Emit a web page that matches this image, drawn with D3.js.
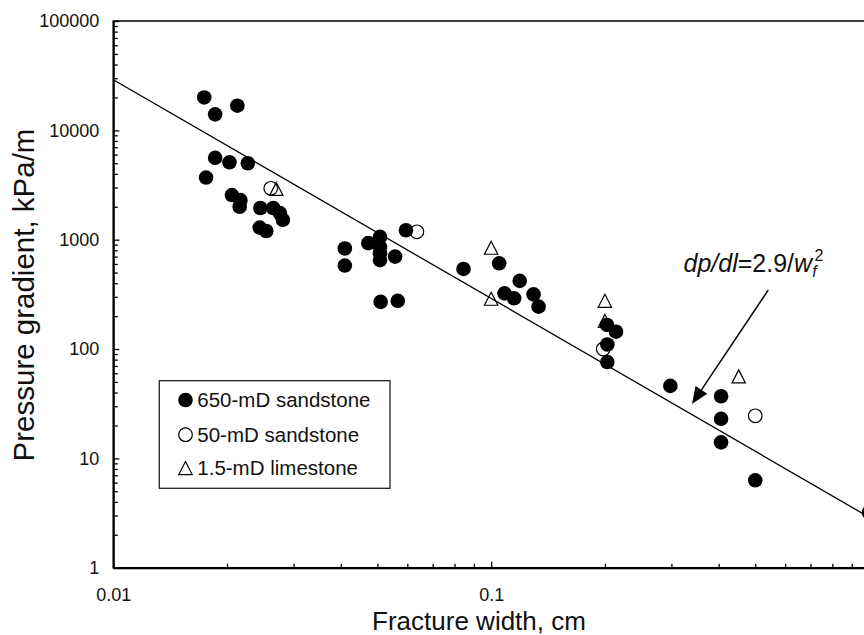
<!DOCTYPE html>
<html>
<head>
<meta charset="utf-8">
<script src="https://cdn.jsdelivr.net/npm/d3@7/dist/d3.min.js"></script>
<style>
  body { margin: 0; background: #fff; }
  svg { display: block; font-family: Arial, "Liberation Sans", sans-serif; }
</style>
</head>
<body>
<svg id="chart" width="864" height="635"></svg>
<script>
// fracture width (cm), pressure gradient (kPa/m)
const sandstone650 = [
  [0.0174, 20000], [0.0186, 14000], [0.0213, 16800], [0.0186, 5600],
  [0.0203, 5100], [0.0227, 5000], [0.0176, 3700], [0.0206, 2560],
  [0.0217, 2300], [0.0216, 2000], [0.0245, 1950], [0.0265, 1950],
  [0.0276, 1750], [0.0281, 1520], [0.0244, 1290], [0.0254, 1200],
  [0.041, 830], [0.041, 580], [0.0473, 930], [0.0508, 1060],
  [0.0508, 860], [0.0508, 750], [0.0508, 650], [0.0557, 700],
  [0.051, 270], [0.0566, 276], [0.0595, 1220], [0.0845, 540],
  [0.105, 608], [0.119, 420], [0.1085, 323], [0.115, 291],
  [0.1295, 316], [0.1335, 244], [0.2026, 166], [0.214, 144],
  [0.203, 110], [0.203, 76], [0.298, 46], [0.406, 37],
  [0.406, 23], [0.406, 14], [0.5, 6.3], [1.0, 3.2]
];
const sandstone50 = [[0.0261, 2950], [0.0636, 1180], [0.198, 100], [0.5, 24.5]];
const limestone = [[0.027, 2900], [0.1, 840], [0.1, 287], [0.2, 275], [0.2, 180], [0.452, 56]];

const fitCoef = 2.9;          // dp/dl = 2.9 / w^2
const fitRange = [0.01, 1];
const xMajor = [0.01, 0.1, 1];
const xLabels = ["0.01", "0.1", ""];   // the "1" sits past the window edge
const yMajor = [1, 10, 100, 1000, 10000, 100000];
const legendLabels = ["650-mD sandstone", "50-mD sandstone", "1.5-mD limestone"];

// annotation anchors, in data units
const noteAt = [0.323, 506];
const arrowFrom = [0.541, 346];
const arrowTo = [0.340, 31.4];

const svg = d3.select("#chart");

const x = d3.scaleLog().domain([0.01, 1]).range([113.3, 869]);
const y = d3.scaleLog().domain([1, 100000]).range([567.7, 21]);

// plot frame (right side falls outside the window, like the original)
svg.append("rect")
  .attr("x", x(0.01)).attr("y", y(100000))
  .attr("width", x(1) - x(0.01)).attr("height", y(1) - y(100000))
  .attr("fill", "none").attr("stroke", "#000").attr("stroke-width", 1.5);

// minor ticks
const xMinor = x.ticks().filter(v => !xMajor.some(m => Math.abs(m - v) < 1e-9));
const yMinor = y.ticks().filter(v => !yMajor.some(m => Math.abs(m - v) < 1e-9));

svg.append("g")
  .attr("transform", `translate(0,${y(1)})`)
  .call(d3.axisBottom(x).tickValues(xMinor).tickSize(-4).tickFormat(""))
  .call(g => g.select(".domain").remove())
  .selectAll("line").attr("stroke", "#000").attr("stroke-width", 1.3);

svg.append("g")
  .attr("transform", `translate(${x(0.01)},0)`)
  .call(d3.axisLeft(y).tickValues(yMinor).tickSize(-4.5).tickFormat(""))
  .call(g => g.select(".domain").remove())
  .selectAll("line").attr("stroke", "#000").attr("stroke-width", 1.3);

// major axes
const xAxis = svg.append("g")
  .attr("transform", `translate(0,${y(1)})`)
  .call(d3.axisBottom(x).tickValues(xMajor).tickSizeInner(-6).tickSizeOuter(0)
    .tickPadding(21).tickFormat((d, i) => xLabels[i]));

const yAxis = svg.append("g")
  .attr("transform", `translate(${x(0.01)},0)`)
  .call(d3.axisLeft(y).tickValues(yMajor).tickSizeInner(-6).tickSizeOuter(0)
    .tickPadding(14).tickFormat(d => String(d)));

[xAxis, yAxis].forEach(g => {
  g.select(".domain").attr("stroke", "#000").attr("stroke-width", 2);
  g.selectAll(".tick line").attr("stroke", "#000").attr("stroke-width", 1.3);
  g.selectAll("text").attr("fill", "#111").style("font-size", "18px")
    .style("font-family", "Arial, 'Liberation Sans', sans-serif");
});

// axis titles
svg.append("text")
  .attr("x", 479).attr("y", 630)
  .attr("text-anchor", "middle")
  .style("font-size", "26px").attr("fill", "#111")
  .text("Fracture width, cm");

svg.append("text")
  .attr("transform", "translate(33.5,295) rotate(-90)")
  .attr("text-anchor", "middle")
  .style("font-size", "29.5px").attr("fill", "#111")
  .text("Pressure gradient, kPa/m");

// fit line
const fitLine = d3.line().x(d => x(d)).y(d => y(fitCoef / (d * d)));
svg.append("path")
  .datum(fitRange)
  .attr("d", fitLine)
  .attr("fill", "none").attr("stroke", "#000").attr("stroke-width", 1.3);

// markers
const triPath = "M0,-6.7L6.7,6.3L-6.7,6.3Z";

svg.append("g").selectAll("circle")
  .data(sandstone650).join("circle")
  .attr("cx", d => x(d[0])).attr("cy", d => y(d[1]))
  .attr("r", 7.3).attr("fill", "#000");

svg.append("g").selectAll("circle")
  .data(sandstone50).join("circle")
  .attr("cx", d => x(d[0])).attr("cy", d => y(d[1]))
  .attr("r", 6.8).attr("fill", "none").attr("stroke", "#000").attr("stroke-width", 1.2);

svg.append("g").selectAll("path")
  .data(limestone).join("path")
  .attr("transform", d => `translate(${x(d[0])},${y(d[1])})`)
  .attr("d", triPath)
  .attr("fill", "none").attr("stroke", "#000").attr("stroke-width", 1.2);

// annotation
const note = svg.append("text")
  .attr("x", x(noteAt[0])).attr("y", y(noteAt[1]))
  .style("font-size", "25px").attr("fill", "#111");
note.append("tspan").style("font-style", "italic").text("dp/dl");
note.append("tspan").text("=2.9/");
note.append("tspan").style("font-style", "italic").text("w");
note.append("tspan").style("font-style", "italic").style("font-size", "16px").attr("dy", 5).text("f");
note.append("tspan").style("font-size", "16px").attr("dx", -2).attr("dy", -16).text("2");

const ax0 = x(arrowFrom[0]), ay0 = y(arrowFrom[1]);
const ax1 = x(arrowTo[0]), ay1 = y(arrowTo[1]);
const ang = Math.atan2(ay1 - ay0, ax1 - ax0);
const headLen = 17, headW = 7;
const bx = ax1 - headLen * Math.cos(ang), by = ay1 - headLen * Math.sin(ang);
svg.append("line")
  .attr("x1", ax0).attr("y1", ay0).attr("x2", bx).attr("y2", by)
  .attr("stroke", "#000").attr("stroke-width", 1.5);
svg.append("path")
  .attr("d", `M${ax1},${ay1}L${bx + headW * Math.sin(ang)},${by - headW * Math.cos(ang)}L${bx - headW * Math.sin(ang)},${by + headW * Math.cos(ang)}Z`)
  .attr("fill", "#000");

// legend
const legend = svg.append("g").attr("transform", "translate(159.3,380.7)");
legend.append("rect")
  .attr("width", 230.7).attr("height", 107.6)
  .attr("fill", "#fff").attr("stroke", "#222").attr("stroke-width", 1.3);

const rowY = [19.3, 54, 87.6];
legendLabels.forEach((label, i) => {
  const row = legend.append("g").attr("transform", `translate(26.2,${rowY[i]})`);
  if (i === 0) row.append("circle").attr("r", 7.3).attr("fill", "#000");
  if (i === 1) row.append("circle").attr("r", 6.8).attr("fill", "none").attr("stroke", "#000").attr("stroke-width", 1.2);
  if (i === 2) row.append("path").attr("d", triPath).attr("fill", "none").attr("stroke", "#000").attr("stroke-width", 1.2);
  row.append("text")
    .attr("x", 11.8).attr("y", 7)
    .style("font-size", "20.5px").attr("fill", "#111")
    .text(label);
});
</script>
</body>
</html>
